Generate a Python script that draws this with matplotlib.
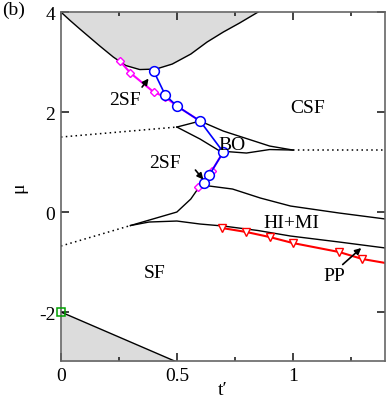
import matplotlib
matplotlib.use("Agg")
import matplotlib.pyplot as plt
from matplotlib.ticker import MultipleLocator

plt.rcParams["font.family"] = ["Liberation Serif", "DejaVu Serif"]
FS = 14

# upper grey region boundary
top_t = [0.0, 0.04, 0.082, 0.125, 0.168, 0.226, 0.28, 0.34, 0.41, 0.48,
         0.56, 0.63, 0.70, 0.77, 0.85]
top_mu = [4.0, 3.83, 3.66, 3.49, 3.32, 3.1, 2.93, 2.85, 2.86, 2.96,
          3.16, 3.4, 3.6, 3.78, 4.0]
# lower grey region boundary
bot_t = [0.0, 0.5]
bot_mu = [-2.0, -3.0]

# BO lobe
bo_up_t = [0.5, 0.6, 0.70, 0.80, 0.90, 1.0]
bo_up_mu = [1.7, 1.82, 1.62, 1.47, 1.32, 1.24]
bo_lo_t = [0.5, 0.6, 0.685, 0.80, 0.90, 1.0]
bo_lo_mu = [1.7, 1.46, 1.22, 1.18, 1.25, 1.24]
dot1_t = [0.0, 0.5]
dot1_mu = [1.5, 1.7]
dot2_t = [1.0, 1.4]
dot2_mu = [1.24, 1.24]

# HI+MI lobe
hm_up_t = [0.30, 0.5, 0.56, 0.59, 0.64, 0.74, 0.86, 0.99, 1.2, 1.4]
hm_up_mu = [-0.27, 0.0, 0.26, 0.46, 0.52, 0.46, 0.28, 0.12, -0.02, -0.14]
hm_lo_t = [0.30, 0.38, 0.5, 0.6, 0.70, 0.85, 0.99, 1.2, 1.4]
hm_lo_mu = [-0.27, -0.2, -0.18, -0.24, -0.28, -0.37, -0.48, -0.6, -0.72]
dot3_t = [0.0, 0.30]
dot3_mu = [-0.68, -0.27]

# 2SF boundaries (magenta diamonds)
mg1_t = [0.254, 0.30, 0.40, 0.45, 0.50, 0.60]
mg1_mu = [3.02, 2.78, 2.40, 2.30, 2.12, 1.82]
mg2_t = [0.59, 0.65, 0.70]
mg2_mu = [0.50, 0.82, 1.20]
# blue circles
bl_t = [0.40, 0.45, 0.50, 0.60, 0.70, 0.64, 0.617]
bl_mu = [2.82, 2.34, 2.12, 1.82, 1.20, 0.74, 0.58]
# PP boundary (red triangles)
rd_t = [0.695, 0.80, 0.90, 1.0, 1.2, 1.3, 1.4]
rd_mu = [-0.32, -0.40, -0.50, -0.62, -0.80, -0.94, -1.02]
rd_mark = [0, 1, 2, 3, 4, 5]

fig = plt.figure(figsize=(3.88, 4.02), dpi=100)
ax = fig.add_axes([0.157, 0.0995, 0.835, 0.868])

# grey regions
ax.fill_between(top_t, top_mu, 4.0, color="#dcdcdc", lw=0)
ax.plot(top_t, top_mu, color="k", lw=1)
ax.fill_between(bot_t, bot_mu, -3.0, color="#dcdcdc", lw=0)
ax.plot(bot_t, bot_mu, color="k", lw=1)

for x, y in [(bo_up_t, bo_up_mu), (bo_lo_t, bo_lo_mu),
             (hm_up_t, hm_up_mu), (hm_lo_t, hm_lo_mu)]:
    ax.plot(x, y, color="k", lw=1)
for x, y in [(dot1_t, dot1_mu), (dot2_t, dot2_mu), (dot3_t, dot3_mu)]:
    ax.plot(x, y, color="k", lw=1.1, ls=(0, (1, 2.2)))

ax.plot(mg1_t, mg1_mu, color="#ff00ff", lw=1.5, marker="D", ms=4,
        mfc="white", mec="#ff00ff", mew=1)
ax.plot(mg2_t, mg2_mu, color="#ff00ff", lw=1.5, marker="D", ms=4,
        mfc="white", mec="#ff00ff", mew=1, markevery=[0, 1])
ax.plot(bl_t, bl_mu, color="#0000ff", lw=1.2, marker="o", ms=7,
        mfc="white", mec="#0000ff", mew=1.1)
ax.plot(rd_t, rd_mu, color="#ff0000", lw=1.5, marker="v", ms=6,
        mfc="white", mec="#ff0000", mew=1, markevery=rd_mark)
ax.plot([0.0], [-2.0], marker="s", ms=6, mfc="none", mec="#00a000",
        mew=1.1, clip_on=False, zorder=5)

# labels
ax.text(0.276, 2.26, "2SF", fontsize=FS, ha="center", va="center")
ax.text(1.065, 2.1, "CSF", fontsize=FS, ha="center", va="center")
ax.text(0.737, 1.36, "BO", fontsize=FS, ha="center", va="center")
ax.text(0.45, 1.0, "2SF", fontsize=FS, ha="center", va="center")
ax.text(0.995, -0.2, "HI+MI", fontsize=FS, ha="center", va="center")
ax.text(0.405, -1.2, "SF", fontsize=FS, ha="center", va="center")
ax.text(1.18, -1.26, "PP", fontsize=FS, ha="center", va="center")
arw = dict(arrowstyle="-|>", color="k", lw=1.2, mutation_scale=9,
           shrinkA=0, shrinkB=0)
ax.annotate("", xy=(0.378, 2.67), xytext=(0.35, 2.5), arrowprops=arw)
ax.annotate("", xy=(0.614, 0.65), xytext=(0.58, 0.84), arrowprops=arw)
ax.annotate("", xy=(1.295, -0.72), xytext=(1.215, -1.05), arrowprops=arw)

ax.set_xlim(0, 1.397)
ax.set_ylim(-2.98, 4)
ax.xaxis.set_major_locator(MultipleLocator(0.5))
ax.xaxis.set_minor_locator(MultipleLocator(0.25))
ax.yaxis.set_major_locator(MultipleLocator(2))
ax.xaxis.set_major_formatter(plt.FuncFormatter(lambda v, p: f"{v:g}"))
ax.yaxis.set_major_formatter(plt.FuncFormatter(lambda v, p: f"{v:g}"))
ax.tick_params(which="both", direction="in", top=True, right=True,
               labelsize=FS, color="#222222", width=1.2)
ax.tick_params(which="major", length=6, pad=4)
ax.tick_params(which="minor", length=3)
for s in ax.spines.values():
    s.set_color("#666666")
    s.set_linewidth(1.2)
ax.set_xlabel("t\u2032", fontsize=FS, labelpad=-2)
ax.set_ylabel("\u03bc", fontsize=FS, labelpad=8)
fig.text(0.005, 0.995, "(b)", fontsize=FS, ha="left", va="top")

fig.savefig("out.png", dpi=100)
